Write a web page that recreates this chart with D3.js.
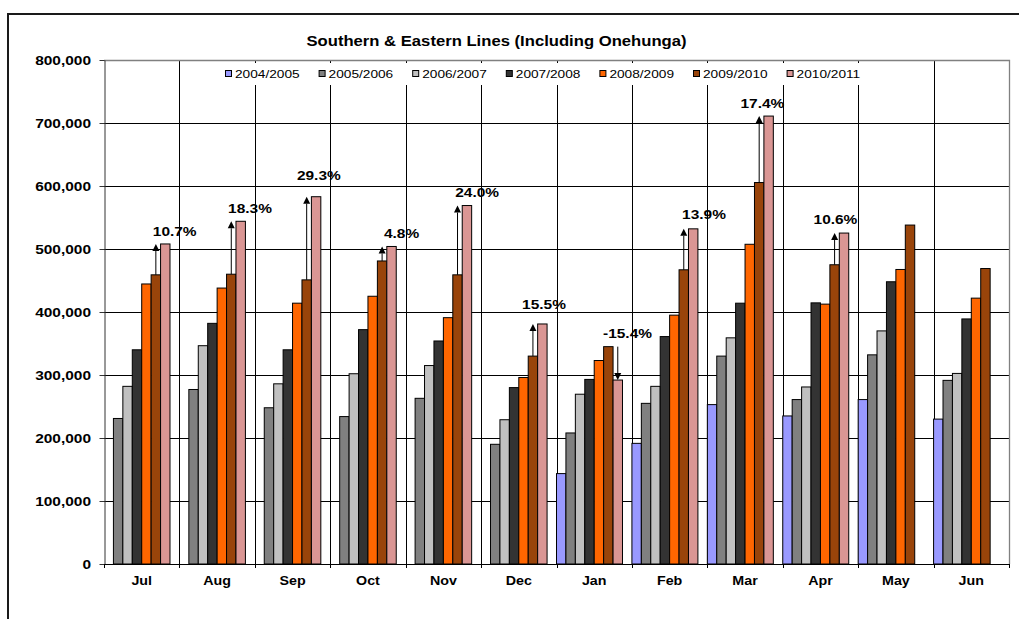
<!DOCTYPE html>
<html>
<head>
<meta charset="utf-8">
<script src="https://cdn.jsdelivr.net/npm/d3@7"></script>
<style>
  html, body { margin: 0; padding: 0; background: #fff; }
  svg { display: block; font-family: "Liberation Sans", Arial, sans-serif; }
</style>
</head>
<body>
<svg id="chart" width="1019" height="619"></svg>
<script>
// Monthly patronage, Southern & Eastern lines (incl. Onehunga)
const months = ["Jul", "Aug", "Sep", "Oct", "Nov", "Dec", "Jan", "Feb", "Mar", "Apr", "May", "Jun"];
const seasons = ["2004/2005", "2005/2006", "2006/2007", "2007/2008", "2008/2009", "2009/2010", "2010/2011"];

const y2004 = [null, null, null, null, null, null, 143500, 191500, 253000, 235000, 261000, 230000];
const y2005 = [231000, 277000, 248000, 234000, 263000, 190000, 208000, 255000, 330000, 261000, 332000, 291500];
const y2006 = [282000, 346500, 286000, 302000, 315000, 229000, 269500, 282000, 359000, 281000, 370000, 302500];
const y2007 = [340000, 382000, 340000, 372000, 354000, 280000, 293000, 361000, 414000, 414500, 448000, 389000];
const y2008 = [444500, 438000, 414000, 425000, 391000, 296000, 323000, 395000, 507500, 412500, 467500, 422000];
const y2009 = [459000, 460000, 451000, 481000, 459000, 330000, 345000, 467000, 605500, 475000, 538000, 469000];
const y2010 = [508000, 544000, 583000, 504000, 569000, 381000, 292000, 532000, 711000, 525300, null, null];

const yTicks = [0, 100000, 200000, 300000, 400000, 500000, 600000, 700000, 800000];

const seriesValues = [y2004, y2005, y2006, y2007, y2008, y2009, y2010];
const seriesColors = ["#9999FF", "#808080", "#C0C0C0", "#333333", "#FF6600", "#99440A", "#DA9694"];

// Label nudges (px) for the year-on-year change labels, by month
const labelNudge = [[9.4, -13], [9.3, -13], [2.7, -21], [10, -13.5], [10.2, -13], [1.6, -19.7],
                    [9.7, -13], [10.8, -14.3], [-6.2, -13], [-8.6, -13.3], [0, -13], [0, -13]];

const STRETCH = 1.19;
const svg = d3.select("#chart");
const M = { left: 104, right: 1009, top: 60, bottom: 564 };

const x0 = d3.scaleBand().domain(months).range([M.left, M.right]).padding(0);
// eight slots per month; the last one is left empty
const slot = x0.bandwidth() / 8;
const x1 = d3.scaleBand().domain(seasons).range([0, slot * 7]).padding(0);
const y = d3.scaleLinear().domain([0, 800000]).range([M.bottom, M.top]);

function txt(parent, x, yy, s, opt = {}) {
  const g = parent.append("g").attr("transform", `translate(${x},${yy}) scale(${STRETCH},1)`);
  return g.append("text")
    .attr("x", 0).attr("y", 0)
    .attr("text-anchor", opt.anchor || "middle")
    .attr("dy", opt.dy || "0.35em")
    .attr("font-size", opt.size || 12)
    .attr("font-weight", opt.weight || "bold")
    .attr("fill", "#000")
    .text(s);
}

// outer chart frame
svg.append("rect").attr("x", 8).attr("y", 14).attr("width", 1060).attr("height", 660)
  .attr("fill", "none").attr("stroke", "#1a1a1a").attr("stroke-width", 2);

// horizontal gridlines
svg.append("g").selectAll("line").data(yTicks.slice(1, -1)).join("line")
  .attr("x1", M.left).attr("x2", M.right)
  .attr("y1", d => Math.round(y(d)) + 0.5).attr("y2", d => Math.round(y(d)) + 0.5)
  .attr("stroke", "#000").attr("stroke-width", 1);

// vertical separators between months
svg.append("g").selectAll("line").data(months.slice(1)).join("line")
  .attr("x1", d => Math.round(x0(d)) + 0.5).attr("x2", d => Math.round(x0(d)) + 0.5)
  .attr("y1", M.top).attr("y2", M.bottom + 4)
  .attr("stroke", "#000").attr("stroke-width", 1);

// plot border (top and right)
svg.append("path")
  .attr("d", `M${M.left},${M.top + 0.5}H${M.right + 0.5}V${M.bottom}`)
  .attr("fill", "none").attr("stroke", "#808080").attr("stroke-width", 1.3);

// legend with white backing
const legend = svg.append("g");
legend.append("rect").attr("x", 219).attr("y", 63).attr("width", 647).attr("height", 22).attr("fill", "#fff");
seasons.forEach((s, i) => {
  const lx = 225 + i * 93.6;
  legend.append("rect").attr("x", lx + 0.5).attr("y", 70.5).attr("width", 6).attr("height", 6)
    .attr("fill", seriesColors[i]).attr("stroke", "#000").attr("stroke-width", 1);
  txt(legend, lx + 10, 73.5, s, { anchor: "start", size: 11.5, weight: "normal" });
});

// bars
const bars = svg.append("g");
seasons.forEach((s, si) => {
  const vals = seriesValues[si];
  bars.append("g").selectAll("rect")
    .data(months.map((m, mi) => ({ m, v: vals[mi] })).filter(d => d.v != null))
    .join("rect")
    .attr("x", d => x0(d.m) + x1(s))
    .attr("width", x1.bandwidth())
    .attr("y", d => y(d.v))
    .attr("height", d => y(0) - y(d.v))
    .attr("fill", seriesColors[si])
    .attr("stroke", "#000").attr("stroke-width", 1);
});

// y axis
const yAxis = svg.append("g").attr("transform", `translate(${M.left + 0.5},0)`)
  .call(d3.axisLeft(y).tickValues(yTicks).tickSize(5).tickFormat(d3.format(",")).tickSizeOuter(0));
yAxis.select(".domain").attr("stroke", "#333");
yAxis.selectAll(".tick line").attr("stroke", "#333");
yAxis.selectAll(".tick text").remove();
yTicks.forEach(t => txt(svg, M.left - 13, y(t), d3.format(",")(t), { anchor: "end", size: 13 }));

// x axis
svg.append("line").attr("x1", M.left).attr("x2", M.right + 1)
  .attr("y1", M.bottom + 0.5).attr("y2", M.bottom + 0.5).attr("stroke", "#000");
svg.append("g").selectAll("line").data([M.left, M.right]).join("line")
  .attr("x1", d => Math.round(d) + 0.5).attr("x2", d => Math.round(d) + 0.5)
  .attr("y1", M.bottom).attr("y2", M.bottom + 4).attr("stroke", "#000");
months.forEach(m => txt(svg, x0(m) + x0.bandwidth() / 2, 580.5, m, { size: 12 }));

// title
txt(svg, 496.5, 41.5, "Southern & Eastern Lines (Including Onehunga)", { size: 14 });

// year-on-year change arrows and labels (2009/2010 -> 2010/2011)
const ann = svg.append("g");
const prev = y2009, curr = y2010;
months.forEach((m, mi) => {
  const a = prev[mi], b = curr[mi];
  if (a == null || b == null) return;
  const change = b / a - 1;
  const up = change >= 0;
  const ya = y(a), yb = y(b);
  const cx = up ? x0(m) + x1(seasons[5]) + slot / 2 : x0(m) + x1(seasons[6]) + slot / 2;
  const head = 7, hw = 3.5;
  ann.append("line")
    .attr("x1", cx).attr("x2", cx)
    .attr("y1", ya).attr("y2", up ? yb + head : yb - head)
    .attr("stroke", "#000").attr("stroke-width", 1);
  ann.append("path")
    .attr("d", up
      ? `M${cx},${yb}L${cx - hw},${yb + head}L${cx + hw},${yb + head}Z`
      : `M${cx},${yb}L${cx - hw},${yb - head}L${cx + hw},${yb - head}Z`)
    .attr("fill", "#000");
  const pinkCx = x0(m) + x1(seasons[6]) + slot / 2;
  const [dx, dy] = labelNudge[mi];
  txt(ann, pinkCx + dx, Math.min(ya, yb) + dy, (change * 100).toFixed(1) + "%", { size: 13 });
});
</script>
</body>
</html>
